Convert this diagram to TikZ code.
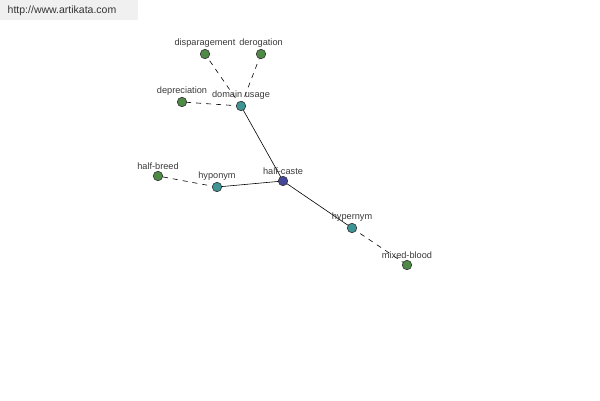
\documentclass[tikz,border=0pt]{standalone}
\usepackage{fontspec}
\setmainfont{Liberation Sans}
\usepackage{tikz}
\usetikzlibrary{positioning,backgrounds}
\definecolor{leafgreen}{HTML}{4E8A46}
\definecolor{relteal}{HTML}{3E9494}
\definecolor{rootblue}{HTML}{45479A}
\definecolor{labelgray}{HTML}{3A3A3A}
\tikzstyle{word} = [circle, draw=black!80, line width=0.6pt, inner sep=0pt, minimum size=9.5pt]
\tikzstyle{leaf} = [word, fill=leafgreen]
\tikzstyle{rel} = [word, fill=relteal]
\tikzstyle{root} = [word, fill=rootblue]
\tikzstyle{lbl} = [above=0pt, inner sep=1pt, text=labelgray, font=\fontsize{9.2}{10}\selectfont]
\tikzstyle{link} = [line width=0.6pt, black]
\tikzstyle{dlink} = [link, dash pattern=on 5pt off 5pt]

\begin{document}
\begin{tikzpicture}[x=1pt, y=-1pt]
    \useasboundingbox (0,0) rectangle (600,400);
    % Header
    \fill[gray!12] (0,0) rectangle (138,20);
    \node[text=black!80, font=\fontsize{10.5}{11}\selectfont] (site) at (62,11) {http://www.artikata.com};
    % Nodes
    \node[root] (caste) at (283,181) {};
    \node[rel] (domain) at (241,106) {};
    \node[rel] (hypo) at (217,187) {};
    \node[rel] (hyper) at (352,228) {};
    \node[leaf] (disp) at (205,54) {};
    \node[leaf] (derog) at (261,54) {};
    \node[leaf] (depr) at (182,102) {};
    \node[leaf] (breed) at (158,176) {};
    \node[leaf] (blood) at (407,265) {};
    % Edges
    \begin{scope}[on background layer]
    \draw[link] (caste.center) -- (domain.center);
    \draw[link] (caste.center) -- (hypo.center);
    \draw[link] (caste.center) -- (hyper.center);
    \draw[dlink] (domain.center) -- (disp.center);
    \draw[dlink] (domain.center) -- (derog.center);
    \draw[dlink] (domain.center) -- (depr.center);
    \draw[dlink] (hypo.center) -- (breed.center);
    \draw[dlink] (hyper.center) -- (blood.center);
    \end{scope}
    % Labels
    \node[lbl] at (caste.north) {half-caste};
    \node[lbl] at (domain.north) {domain usage};
    \node[lbl] at (hypo.north) {hyponym};
    \node[lbl] at (hyper.north) {hypernym};
    \node[lbl] at (disp.north) {disparagement};
    \node[lbl] at (derog.north) {derogation};
    \node[lbl] at (depr.north) {depreciation};
    \node[lbl] at (breed.north) {half-breed};
    \node[lbl] at (blood.north) {mixed-blood};
\end{tikzpicture}
\end{document}
